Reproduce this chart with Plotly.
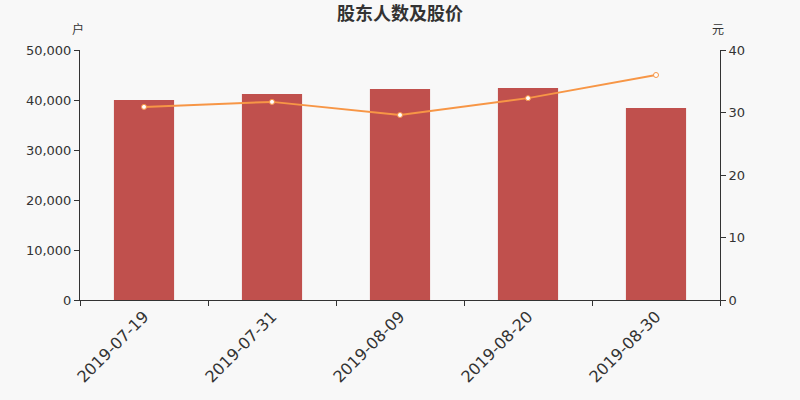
import plotly.graph_objects as go

dates = ["2019-07-19", "2019-07-31", "2019-08-09", "2019-08-20", "2019-08-30"]
holders = [40000, 41200, 42200, 42400, 38400]
prices = [30.9, 31.7, 29.6, 32.3, 36.0]

bg = "#f8f8f8"
axis_font = dict(family="DejaVu Sans, sans-serif", size=13, color="#333333")
unit_font = dict(family="Noto Sans CJK SC, sans-serif", size=12, color="#333333")

fig = go.Figure()

fig.add_trace(go.Bar(
    x=dates, y=holders, name="股东人数",
    marker=dict(color="#c0504d", line=dict(width=0)), width=0.47,
))

fig.add_trace(go.Scatter(
    x=dates, y=prices, name="股价", yaxis="y2",
    mode="lines+markers",
    line=dict(color="#f79646", width=2),
    marker=dict(size=5, color="white", line=dict(color="#f79646", width=1)),
))

fig.update_layout(
    width=800, height=400,
    paper_bgcolor=bg, plot_bgcolor=bg,
    margin=dict(l=80, r=80, t=50, b=100),
    showlegend=False,
    title=dict(text="股东人数及股价", x=0.5, xanchor="center", y=0.967, yanchor="middle",
               font=dict(family="Noto Sans CJK SC, sans-serif", size=18, color="#333333",
                         weight="bold")),
    xaxis=dict(
        type="category", tickson="boundaries", ticks="outside", ticklen=5,
        tickcolor="#333333", showline=True, linecolor="#333333", linewidth=1,
        tickangle=-45, tickfont=dict(family="DejaVu Sans, sans-serif", size=16, color="#333333"),
        showgrid=False, automargin=False,
    ),
    yaxis=dict(
        range=[0, 50000], dtick=10000, tickformat=",", ticks="outside", ticklen=5,
        tickcolor="#333333", showline=True, linecolor="#333333", showgrid=False,
        zeroline=False, tickfont=axis_font, automargin=False,
    ),
    yaxis2=dict(
        range=[0, 40], dtick=10, overlaying="y", side="right", ticks="outside", ticklen=5,
        tickcolor="#333333", showline=True, linecolor="#333333", showgrid=False,
        zeroline=False, tickfont=axis_font, automargin=False,
    ),
    annotations=[
        dict(text="户", xref="paper", yref="paper", x=0, y=1.0, yshift=22, xshift=-2,
             xanchor="center", yanchor="middle", showarrow=False, font=unit_font),
        dict(text="元", xref="paper", yref="paper", x=1, y=1.0, yshift=22, xshift=-2,
             xanchor="center", yanchor="middle", showarrow=False, font=unit_font),
    ],
)

# drop the browser's default 8px body margin so the chart sits at the corner
fig.write_html("out.html", config={"displayModeBar": False},
               post_script="document.body.style.margin='0';")
